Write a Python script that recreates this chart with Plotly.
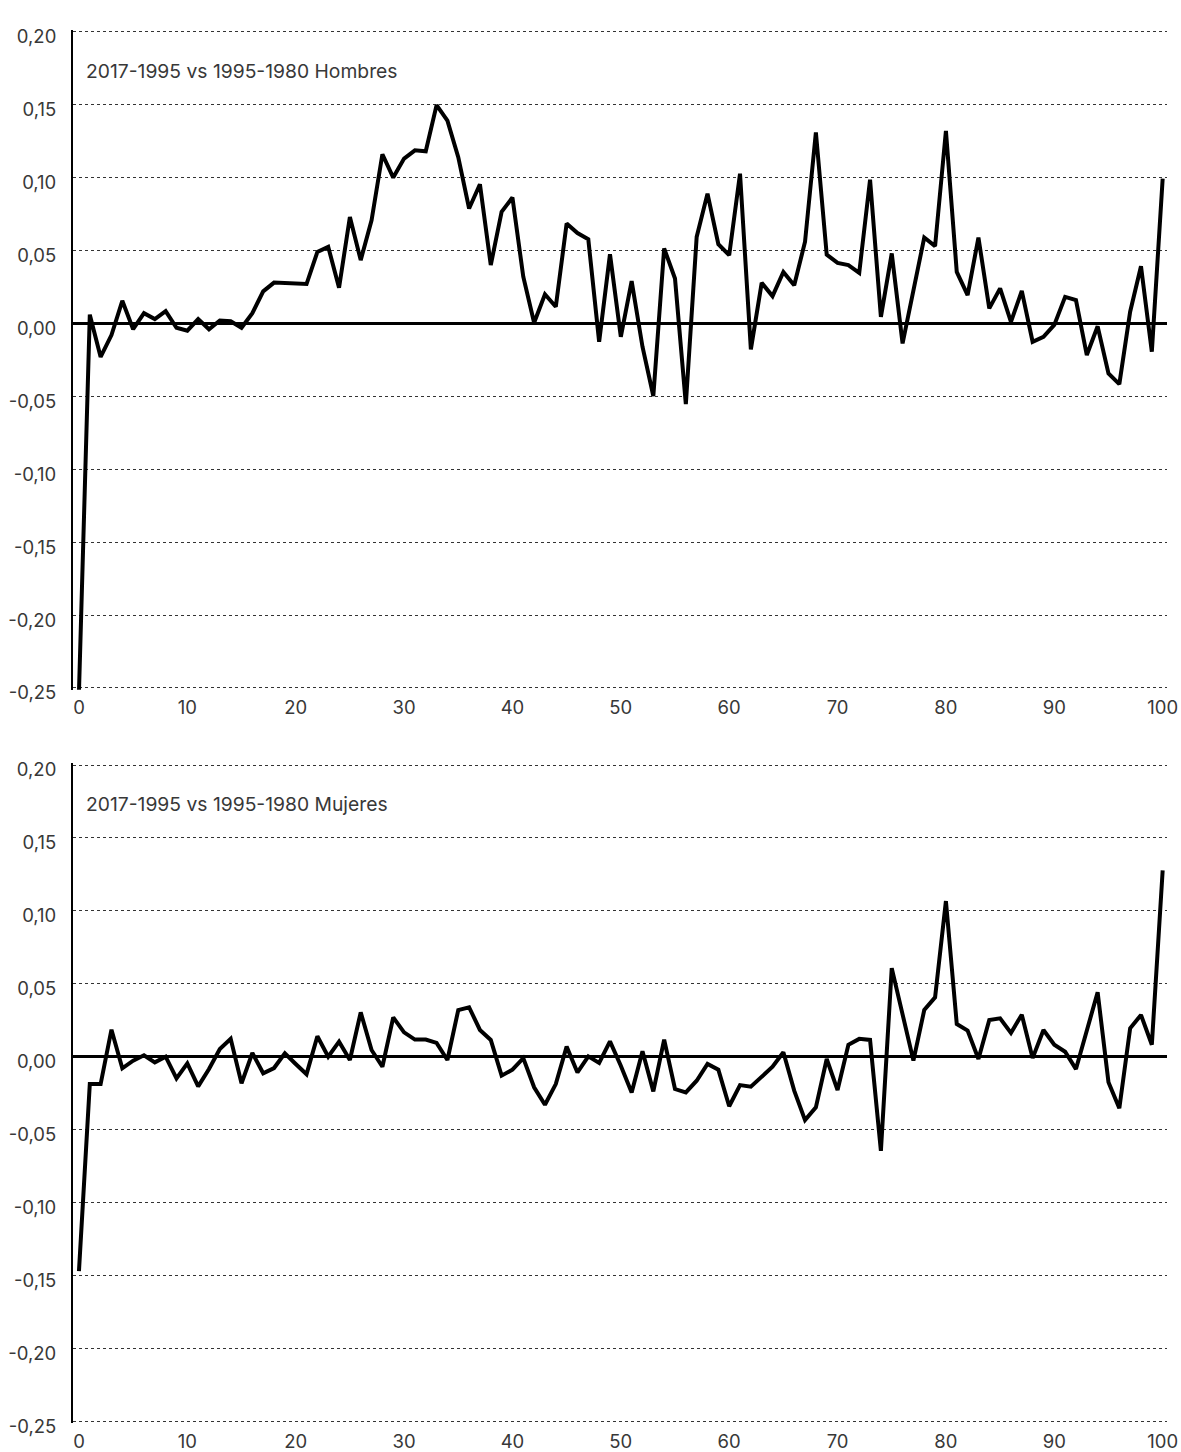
import plotly.graph_objects as go

ages = list(range(0, 101))

hombres = [
    -0.253, 0.006, -0.023, -0.008, 0.0155, -0.004, 0.007, 0.003, 0.0084, -0.003,
    -0.005, 0.003, -0.004, 0.002, 0.0015, -0.003, 0.007, 0.022, 0.028, 0.0277,
    0.0275, 0.027, 0.049, 0.0525, 0.0245, 0.073, 0.0434, 0.0707, 0.116, 0.100,
    0.113, 0.1187, 0.118, 0.1497, 0.139, 0.114, 0.0788, 0.0954, 0.040, 0.0765,
    0.0863, 0.032, 0.0004, 0.020, 0.0114, 0.0685, 0.062, 0.0577, -0.0126, 0.0475,
    -0.0092, 0.029, -0.016, -0.0498, 0.0514, 0.0308, -0.0553, 0.0593, 0.089, 0.0543,
    0.0468, 0.1027, -0.0178, 0.0278, 0.0187, 0.0353, 0.0262, 0.056, 0.131, 0.0472,
    0.0415, 0.040, 0.0347, 0.0986, 0.0045, 0.048, -0.0137, 0.022, 0.0589, 0.053,
    0.132, 0.0353, 0.0194, 0.0589, 0.0103, 0.024, 0.001, 0.0223, -0.0126, -0.0092,
    -0.001, 0.0182, 0.016, -0.0217, -0.002, -0.0343, -0.0416, 0.008, 0.0392, -0.0194,
    0.0993,
]

mujeres = [
    -0.147, -0.0188, -0.0188, 0.0185, -0.008, -0.0027, 0.001, -0.0039, 0.0, -0.0149,
    -0.0046, -0.0204, -0.0085, 0.0053, 0.0122, -0.0183, 0.0025, -0.0114, -0.0078, 0.0023,
    -0.005, -0.012, 0.014, 0.0, 0.0103, -0.0023, 0.0304, 0.0046, -0.0069, 0.027,
    0.0167, 0.0117, 0.0117, 0.0094, -0.0023, 0.032, 0.0339, 0.0183, 0.0115, -0.013,
    -0.0089, -0.001, -0.021, -0.033, -0.0188, 0.0069, -0.0108, 0.0002, -0.0043, 0.0105,
    -0.0062, -0.0245, 0.0037, -0.0238, 0.0117, -0.0222, -0.0245, -0.0165, -0.005, -0.0089,
    -0.034, -0.0195, -0.0206, -0.0142, -0.0069, 0.003, -0.0233, -0.0435, -0.0348, -0.0016,
    -0.0229, 0.0082, 0.0122, 0.0115, -0.0646, 0.0607, 0.029, -0.0027, 0.032, 0.0407,
    0.1067, 0.0224, 0.0179, -0.0016, 0.0252, 0.0263, 0.0163, 0.0288, -0.001, 0.0183,
    0.0082, 0.0034, -0.0085, 0.0179, 0.0442, -0.0176, -0.0353, 0.0195, 0.0286, 0.0082,
    0.1277,
]

y_tick_vals = [0.20, 0.15, 0.10, 0.05, 0.0, -0.05, -0.10, -0.15, -0.20, -0.25]
y_tick_text = ["0,20", "0,15", "0,10", "0,05", "0,00", "-0,05", "-0,10", "-0,15", "-0,20", "-0,25"]
x_tick_vals = [0, 10, 20, 30, 40, 50, 60, 70, 80, 90, 100]
x_tick_text = ["0", "10", "20", "30", "40", "50", "60", "70", "80", "90", "100"]

titles = ["2017-1995 vs 1995-1980 Hombres", "2017-1995 vs 1995-1980 Mujeres"]

FONT = "Inter"
TXT = "#383838"
FS = 18.5
FS_T = 19.3

fig = go.Figure()
fig.add_trace(go.Scatter(x=ages, y=hombres, mode="lines",
                         line=dict(color="black", width=4), xaxis="x", yaxis="y",
                         showlegend=False, hoverinfo="skip"))
fig.add_trace(go.Scatter(x=ages, y=mujeres, mode="lines",
                         line=dict(color="black", width=4), xaxis="x2", yaxis="y2",
                         showlegend=False, hoverinfo="skip"))

# layout geometry (pixels)
TOP, BOT = 30.25, 1422.75
H_TOTAL = BOT - TOP
top_dom = [(BOT - 689.75) / H_TOTAL, 1.0]
bot_dom = [0.0, (BOT - 763.25) / H_TOTAL]

def yaxis(domain, anchor):
    return dict(
        domain=domain, anchor=anchor, range=[-0.2512, 0.2012],
        tickmode="array", tickvals=y_tick_vals, ticktext=y_tick_text,
        showgrid=True, gridcolor="#333333", gridwidth=1, griddash="dot",
        zeroline=True, zerolinecolor="black", zerolinewidth=2.5,
        showline=True, linecolor="black", linewidth=2,
        ticks="", ticklabelstandoff=11, ticklabelshift=5, automargin=False,
        tickfont=dict(family=FONT, size=FS, color=TXT), fixedrange=True,
    )

def xaxis(anchor):
    return dict(
        anchor=anchor, domain=[0, 1], range=[-0.55, 100.4],
        tickmode="array", tickvals=x_tick_vals, ticktext=x_tick_text,
        showgrid=False, zeroline=False, showline=False, ticks="",
        ticklabelstandoff=5, automargin=False,
        tickfont=dict(family=FONT, size=FS, color=TXT), fixedrange=True,
    )

fig.update_layout(
    width=1181, height=1452,
    margin=dict(l=73, r=14, t=TOP, b=1452 - BOT),
    paper_bgcolor="white", plot_bgcolor="white",
    xaxis=xaxis("y"), yaxis=yaxis(top_dom, "x"),
    xaxis2=xaxis("y2"), yaxis2=yaxis(bot_dom, "x2"),
    annotations=[
        dict(text=titles[0], xref="x", yref="y", x=0.5, y=0.173, xanchor="left",
             yanchor="middle", showarrow=False, font=dict(family=FONT, size=FS_T, color=TXT)),
        dict(text=titles[1], xref="x2", yref="y2", x=0.5, y=0.173, xanchor="left",
             yanchor="middle", showarrow=False, font=dict(family=FONT, size=FS_T, color=TXT)),
    ],
)

fig.write_html(
    "out.html",
    config={"displayModeBar": False, "staticPlot": True},
    post_script="document.body.style.margin='0';document.body.style.overflow='hidden';",
)
